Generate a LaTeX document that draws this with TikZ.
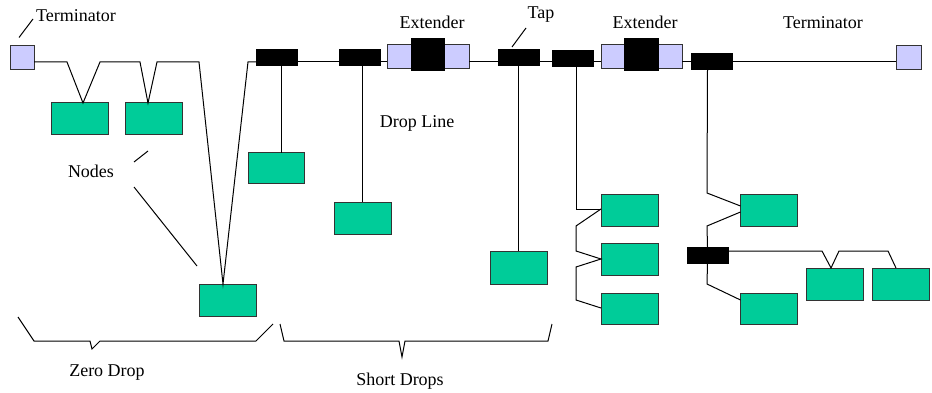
\documentclass[tikz,border=0pt]{standalone}
\usepackage{fontspec}
\setmainfont{Liberation Serif}
\begin{document}
\begin{tikzpicture}[x=1pt,y=-1pt,
  wire/.style={draw=black,line width=1pt},
  devnode/.style={draw=black!80,line width=1pt,fill=nodegreen,minimum width=57pt,minimum height=32pt,inner sep=0pt,outer sep=0pt},
  tapbox/.style={draw=black,fill=black,minimum width=41pt,minimum height=16pt,inner sep=0pt,outer sep=0pt},
  termbox/.style={draw=black!80,line width=1pt,fill=termblue,minimum width=24pt,minimum height=24pt,inner sep=0pt,outer sep=0pt},
  extcore/.style={draw=black,fill=black,minimum width=33pt,minimum height=32pt,inner sep=0pt,outer sep=0pt},
  lbl/.style={font=\fontsize{18}{20}\selectfont,inner sep=0pt}]
\definecolor{nodegreen}{RGB}{0,204,153}
\definecolor{termblue}{RGB}{204,204,255}
\useasboundingbox (0,0) rectangle (932,393);
\coordinate (busy) at (0,62);
% terminators
\node[termbox] (term1) at (22,57.5) {};
\node[termbox,minimum width=25pt] (term2) at (908.5,57.5) {};
% taps
\node[tapbox] (t1) at (276.5,57) {};
\node[tapbox] (t2) at (359.5,57) {};
\node[tapbox] (t3) at (518.5,57) {};
\node[tapbox] (t4) at (572.5,58) {};
\node[tapbox] (t5) at (711.5,61) {};
\node[tapbox] (t6) at (707.5,255) {};
% extenders
\node[termbox] (e1l) at (399,57) {};
\node[termbox,minimum width=25pt] (e1r) at (456.5,57) {};
\node[extcore] (e1c) at (427.5,54) {};
\node[termbox,minimum width=23pt] (e2l) at (612.5,57) {};
\node[termbox] (e2r) at (670,57) {};
\node[extcore,minimum width=34pt] (e2c) at (641,54) {};
% device nodes
\node[devnode] (n1) at (79.5,119) {};
\node[devnode] (n2) at (153.5,119) {};
\node[devnode] (n0) at (227.5,300) {};
\node[devnode,minimum width=56pt,minimum height=31pt] (n3) at (276,168.5) {};
\node[devnode] (n4) at (362.5,218) {};
\node[devnode,minimum height=33pt] (n5) at (518.5,267.5) {};
\node[devnode] (a1) at (629.5,210) {};
\node[devnode] (a2) at (629.5,259) {};
\node[devnode,minimum height=31pt] (a3) at (629.5,308.5) {};
\node[devnode] (b1) at (769,210) {};
\node[devnode,minimum height=31pt] (b2) at (769,308.5) {};
\node[devnode] (c1) at (834.5,284) {};
\node[devnode] (c2) at (900.5,284) {};
% trunk with zero drops
\draw[wire] (term1.east |- busy) -- (67,62) -- (n1.north -| 83,0) -- (100,62) -- (140,62)
  -- (n2.north -| 148,0) -- (157,62) -- (199,62) -- (n0.north -| 223,0) -- (248,62) -- (t1.west |- busy);
\draw[wire] (t1.east |- busy) -- (t2.west |- busy);
\draw[wire] (t2.east |- busy) -- (e1l.west |- busy);
\draw[wire] (e1r.east |- busy) -- (t3.west |- busy);
\draw[wire] (t3.east |- busy) -- (t4.west |- busy);
\draw[wire] (t4.east |- busy) -- (e2l.west |- busy);
\draw[wire] (e2r.east |- busy) -- (t5.west |- busy);
\draw[wire] (t5.east |- busy) -- (term2.west |- busy);
% short drops
\draw[wire] ([xshift=4.5pt]t1.south) -- ([xshift=4.5pt]t1.south |- n3.north);
\draw[wire] (n4.north |- t2.south) -- (n4.north);
\draw[wire] (t3.south) -- (n5.north);
% tap 4 daisy
\draw[wire] ([xshift=3.5pt]t4.south) -- (576,209) -- (a1.west |- 0,209);
\draw[wire] (a1.west |- 0,209) -- (576,226) -- (576,251) -- (a2.west |- 0,259) -- (576,267) -- (576,300) -- (a3.west |- 0,308);
% tap 5 branch
\draw[wire] ([xshift=-4pt]t5.south) -- (707,193) -- (b1.west |- 0,206);
\draw[wire] (b1.west |- 0,212) -- (707,226) -- (t6.north);
\draw[wire] (t6.south) -- (707,284) -- (b2.west |- 0,300);
\draw[wire] (t6.east |- 0,251) -- (822,251) -- (c1.north -| 831,0) -- (839,251) -- (888,251) -- (c2.north -| 896,0);
% labels
\node[lbl] (lterm1) at (76,16) {Terminator};
\node[lbl] (lext1) at (432,22) {Extender};
\node[lbl] (ltap) at (541,15) {Tap};
\node[lbl] (lext2) at (645,22) {Extender};
\node[lbl] (lterm2) at (823,23) {Terminator};
\node[lbl] (ldrop) at (417,123) {Drop Line};
\node[lbl] (lnodes) at (91,171) {Nodes};
\node[lbl] (lzero) at (107,373) {Zero Drop};
\node[lbl] (lshort) at (400,381) {Short Drops};
% leaders
\draw[wire] (term1.north -| 19,0) ++(0,-8) -- (33,19);
\draw[wire] (512,47) -- (526,28);
\draw[wire] (134,162) -- (148,151);
\draw[wire] (134,187) -- (197,266);
% braces
\draw[wire] (18,317) -- (34,341) -- (90,341) -- (92,349) -- (100,341) -- (256,341) -- (273,324);
\draw[wire] (280,324) -- (284,341) -- (399,341) -- (402,357) -- (405,341) -- (548,341) -- (552,324);
\end{tikzpicture}
\end{document}
